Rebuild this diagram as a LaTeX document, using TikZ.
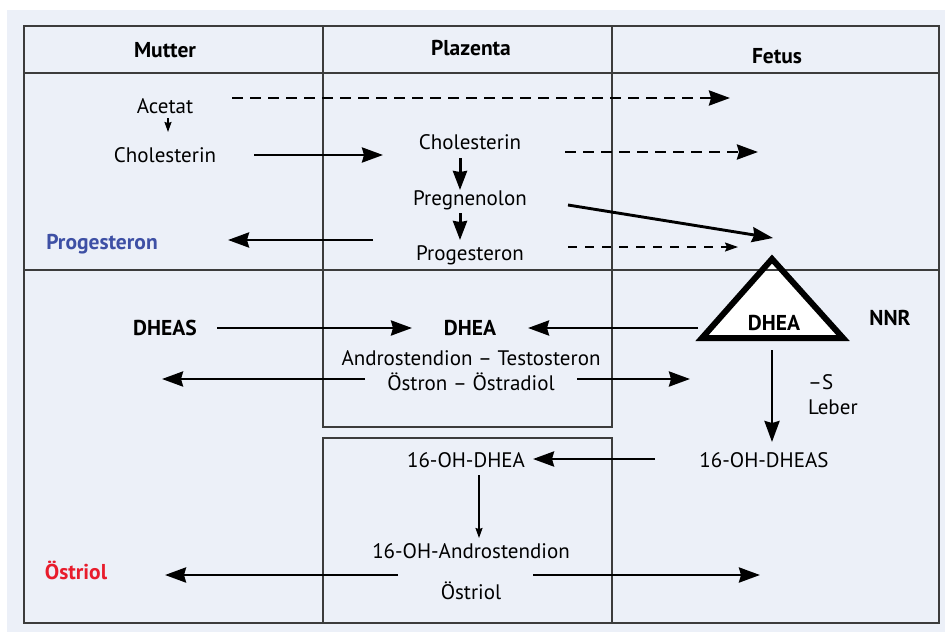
\documentclass[tikz,border=0pt]{standalone}
\usepackage{fontspec}
\setmainfont{PT Sans}
\usetikzlibrary{arrows.meta}
\usetikzlibrary{calc, positioning}
\definecolor{panel}{RGB}{236,240,248}
\definecolor{frame}{RGB}{60,60,60}
\definecolor{progblue}{RGB}{62,80,165}
\definecolor{oestred}{RGB}{232,28,44}
\tikzset{substance/.style={inner sep=0pt, text height=16pt, text depth=2pt, font=\fontsize{21}{25}\selectfont}}
\tikzset{header/.style={substance, font=\fontsize{21.5}{25}\selectfont\bfseries}}
\tikzset{grid/.style={draw=frame, line width=2pt}}
\tikzset{flow/.style={line width=2.9pt, -{Stealth[length=21pt,width=15pt,inset=2pt]}}}
\tikzset{dashflow/.style={flow, dash pattern=on 11pt off 7pt}}
\tikzset{fatflow/.style={line width=3pt, -{Stealth[length=19pt,width=14pt,inset=1pt]}}}
\tikzset{thinflow/.style={line width=1.4pt, -{Stealth[length=10pt,width=7pt,inset=1pt]}}}
\tikzset{thindash/.style={line width=1.6pt, dash pattern=on 9pt off 8pt, -{Stealth[length=13pt,width=9pt,inset=2pt]}}}

\begin{document}
\begin{tikzpicture}[x=1pt, y=-1pt]
\useasboundingbox (0,0) rectangle (945,632);
\fill[panel] (7,10) rectangle (945,632);
% Nebenniere
\coordinate (triTop) at (772,259);
\coordinate (triL) at (702,338);
\coordinate (triR) at (843,338);
\fill[white] (triTop) -- (triL) -- (triR) -- cycle;
% Tabelle
\draw[grid] (24,26) rectangle (939,623);
\draw[grid] (24,73) -- (939,73);
\draw[grid] (24,270) -- (939,270);
\draw[grid] (323,26) rectangle (612,427);
\draw[grid] (323,438) rectangle (612,623);
\draw[line width=6pt, line join=miter] (triTop) -- (triL) -- (triR) -- cycle;

\node[header] (mutter) at (165,50) {Mutter};
\node[header] (plazenta) at (471,48) {Plazenta};
\node[header] (fetus) at (777,56) {Fetus};

\node[substance] (acetat) at (165,106) {Acetat};
\node[substance] (cholM) at (165,155) {Cholesterin};
\node[substance] (cholP) at (470,142) {Cholesterin};
\node[substance] (pregn) at (470,198) {Pregnenolon};
\node[substance] (progP) at (470,253) {Progesteron};
\node[header, text=progblue] (progM) at (102,242) {Progesteron};

\node[header] (dheas) at (165,328) {DHEAS};
\node[header] (dheaP) at (470,328) {DHEA};
\node[header] (dheaF) at (774,323) {DHEA};
\node[header] (nnr) at (890,318) {NNR};
\node[substance] (andro) at (471,358) {Androstendion – Testosteron};
\node[substance] (oestron) at (471,383) {Östron – Östradiol};
\node[substance, anchor=west] (sulf) at (808,382) {–S};
\node[substance, anchor=west] (leber) at (808,407) {Leber};

\node[substance] (ohdheas) at (764,460) {16-OH-DHEAS};
\node[substance] (ohdhea) at (466,460) {16-OH-DHEA};
\node[substance] (ohandro) at (471,551) {16-OH-Androstendion};
\node[substance] (oestriolP) at (471,592) {Östriol};
\node[header, text=oestred] (oestriolM) at (76,572) {Östriol};

\coordinate (acetatEnd) at (730,98);
\coordinate (cholEnd) at (758,152);
\coordinate (pregnEnd) at (773,238);
\coordinate (progEnd) at (738,247);
\coordinate (triW) at (698,328);
\coordinate (triS) at (772,350);
\coordinate (oestronL) at (162,379);
\coordinate (oestronR) at (690,379);
\coordinate (oestriolR) at (760,575);

\draw[dashflow] ($(acetat)+(67,-8)$) -- (acetatEnd);
\draw[thinflow] ($(acetat)+(3,12)$) -- ($(cholM)+(3,-23)$);
\draw[flow] ($(cholM)+(89,0)$) -- ($(cholM -| cholP)+(-87,0)$);
\draw[fatflow] ($(cholP)+(-10,16)$) -- ($(pregn)+(-10,-8)$);
\draw[fatflow] ($(pregn)+(-10,15)$) -- ($(progP)+(-10,-13)$);
\draw[dashflow] ($(cholP)+(95,10)$) -- (cholEnd);
\draw[flow] ($(pregn)+(98,7)$) -- (pregnEnd);
\draw[thindash] ($(progP)+(98,-6)$) -- (progEnd);
\draw[flow] ($(progP)+(-97,-13)$) -- ($(progM)+(126,-2)$);

\draw[flow] ($(dheas)+(52,0)$) -- ($(dheaP)+(-58,0)$);
\draw[flow] (triW) -- ($(dheaP)+(58,0)$);
\draw[flow] ($(oestron)+(-106,-4)$) -- (oestronL);
\draw[flow] ($(oestron)+(106,-4)$) -- (oestronR);
\draw[flow] (triS) -- ($(ohdheas)+(8,-18)$);

\draw[flow] ($(ohdheas)+(-109,-1)$) -- ($(ohdhea)+(67,-1)$);
\draw[thinflow] ($(ohdhea)+(13,15)$) -- ($(ohandro)+(8,-13)$);
\draw[flow] ($(oestriolP)+(-73,-17)$) -- ($(oestriolM)+(89,3)$);
\draw[flow] ($(oestriolP)+(62,-17)$) -- (oestriolR);
\end{tikzpicture}
\end{document}
